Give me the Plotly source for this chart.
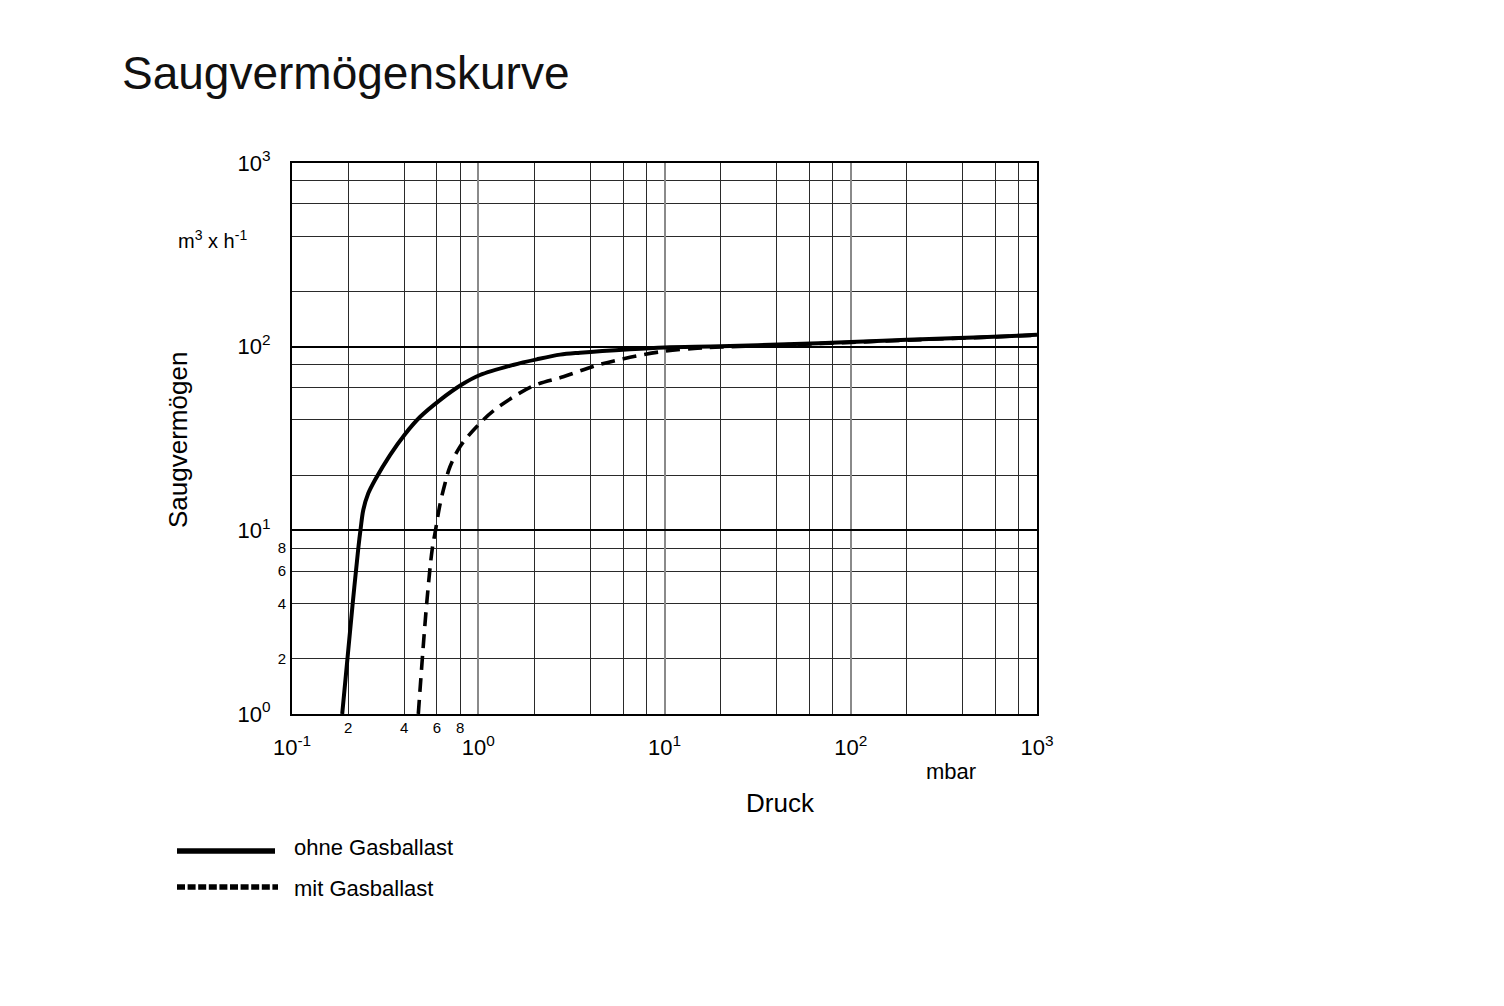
import plotly.graph_objects as go

# ---- data ----
p_ohne = [0.186, 0.2118, 0.227, 0.2338, 0.2414, 0.2568, 0.279, 0.336, 0.4043, 0.4866,
          0.623, 0.821, 1.022, 1.537, 2.06, 2.75, 3.52, 6.53, 10, 20, 50, 100, 200, 500, 1000]
s_ohne = [1, 4, 8, 10.26, 12.9, 15.9, 18.8, 25.7, 33.4, 41.4,
          51.2, 62.4, 70.1, 79.5, 85.3, 90.5, 92.7, 96.8, 99, 100.5, 103.5, 106, 109, 112.5, 116]

p_mit = [0.4766, 0.5287, 0.567, 0.5857, 0.623, 0.663, 0.705, 0.798, 1.0, 1.256,
         1.975, 2.86, 4.4, 6.53, 10, 15, 20, 30, 50, 100, 200, 500, 1000]
s_mit = [1, 4, 8, 9.63, 13.8, 18, 22.2, 28.5, 37.5, 46.2,
         61.1, 68.6, 79.5, 87.5, 94.5, 98, 99.5, 100.8, 102.8, 105.5, 108.5, 112.3, 115.5]

x_decades = [0.1, 1, 10, 100, 1000]
x_decade_labels = ["10<sup>-1</sup>", "10<sup>0</sup>", "10<sup>1</sup>", "10<sup>2</sup>", "10<sup>3</sup>"]
y_decades = [1, 10, 100, 1000]
y_decade_labels = ["10<sup>0</sup>", "10<sup>1</sup>", "10<sup>2</sup>", "10<sup>3</sup>"]
sub_steps = [2, 4, 6, 8]
x_sub_ticks = [0.2, 0.4, 0.6, 0.8]
y_sub_ticks = [2, 4, 6, 8]
sub_labels = ["2", "4", "6", "8"]

x_minor = [d * s for d in x_decades[:-1] for s in sub_steps]
y_minor = [d * s for d in y_decades[:-1] for s in sub_steps]

title_text = "Saugvermögenskurve"
name_ohne = "ohne Gasballast"
name_mit = "mit Gasballast"

FONT = "Liberation Sans, Arial, Helvetica, sans-serif"

fig = go.Figure()
fig.add_trace(go.Scatter(x=p_ohne, y=s_ohne, mode="lines", name=name_ohne,
                         line=dict(color="black", width=4, shape="spline", smoothing=0.9)))
fig.add_trace(go.Scatter(x=p_mit, y=s_mit, mode="lines", name=name_mit,
                         line=dict(color="black", width=3.6, dash="14px,8px", shape="spline", smoothing=1.0)))

fig.update_layout(
    width=1504, height=1006,
    margin=dict(l=292, r=467, t=163, b=292, autoexpand=False),
    paper_bgcolor="white", plot_bgcolor="white",
    showlegend=False,
    font=dict(family=FONT, color="black", size=22),
    title=dict(text=title_text, x=122 / 1504, xanchor="left", xref="container",
               y=1 - 73 / 1006, yanchor="middle", yref="container",
               font=dict(size=46, family=FONT, color="#111")),
    xaxis=dict(type="log", range=[-1, 3], tickmode="array", tickvals=x_decades,
               ticktext=x_decade_labels, showgrid=True, gridcolor="#8a8a8a", gridwidth=1.6,
               ticks="", ticklabelstandoff=13, tickfont=dict(size=22),
               showline=True, linecolor="black", linewidth=2, mirror=True, zeroline=False,
               minor=dict(tickmode="array", tickvals=x_minor, showgrid=True,
                          gridcolor="#2a2a2a", gridwidth=1, ticks="")),
    yaxis=dict(type="log", range=[0, 3], tickmode="array", tickvals=y_decades,
               ticktext=y_decade_labels, showgrid=True, gridcolor="black", gridwidth=1.8,
               ticks="", ticklabelstandoff=15, tickfont=dict(size=22),
               showline=True, linecolor="black", linewidth=2, mirror=True, zeroline=False,
               minor=dict(tickmode="array", tickvals=y_minor, showgrid=True,
                          gridcolor="#2a2a2a", gridwidth=1, ticks="")),
    xaxis2=dict(type="log", range=[-1, 3], overlaying="x", anchor="y", side="bottom",
                tickmode="array", tickvals=x_sub_ticks, ticktext=sub_labels,
                showgrid=False, ticks="", ticklabelstandoff=3, tickfont=dict(size=15),
                showline=False, zeroline=False),
    yaxis2=dict(type="log", range=[0, 3], overlaying="y", anchor="x", side="left",
                tickmode="array", tickvals=y_sub_ticks, ticktext=sub_labels,
                showgrid=False, ticks="", ticklabelstandoff=5, tickfont=dict(size=15),
                showline=False, zeroline=False),
)

# invisible helper trace so that the overlay axes are rendered
fig.add_trace(go.Scatter(x=[x_sub_ticks[0]], y=[y_sub_ticks[0]], xaxis="x2", yaxis="y2",
                         mode="markers", marker=dict(opacity=0), hoverinfo="skip", showlegend=False))

annots = [
    dict(text="m<sup>3</sup> x h<sup>-1</sup>", x=(176 - 292) / 745, y=(714 - 240) / 551,
         xanchor="left", yanchor="middle", font=dict(size=20)),
    dict(text="Saugvermögen", x=(178 - 292) / 745, y=(714 - 440) / 551, textangle=-90,
         xanchor="center", yanchor="middle", font=dict(size=26)),
    dict(text="Druck", x=(780 - 292) / 745, y=(714 - 803) / 551,
         xanchor="center", yanchor="middle", font=dict(size=26)),
    dict(text="mbar", x=(951 - 292) / 745, y=(714 - 772) / 551,
         xanchor="center", yanchor="middle", font=dict(size=22)),
    dict(text=name_ohne, x=(292 - 292) / 745, y=(714 - 847) / 551,
         xanchor="left", yanchor="middle", font=dict(size=22)),
    dict(text=name_mit, x=(292 - 292) / 745, y=(714 - 888) / 551,
         xanchor="left", yanchor="middle", font=dict(size=22)),
]
for a in annots:
    fig.add_annotation(xref="paper", yref="paper", showarrow=False, **a)

# legend swatches
fig.add_shape(type="line", xref="paper", yref="paper",
              x0=(177 - 292) / 745, x1=(275 - 292) / 745,
              y0=(714 - 851) / 551, y1=(714 - 851) / 551,
              line=dict(color="black", width=5.5))
fig.add_shape(type="line", xref="paper", yref="paper",
              x0=(177 - 292) / 745, x1=(278 - 292) / 745,
              y0=(714 - 887) / 551, y1=(714 - 887) / 551,
              line=dict(color="black", width=5.5, dash="8px,2.6px"))

fig.write_html("out.html", config={"displayModeBar": False},
               post_script="document.body.style.margin='0';document.body.style.overflow='hidden';")
